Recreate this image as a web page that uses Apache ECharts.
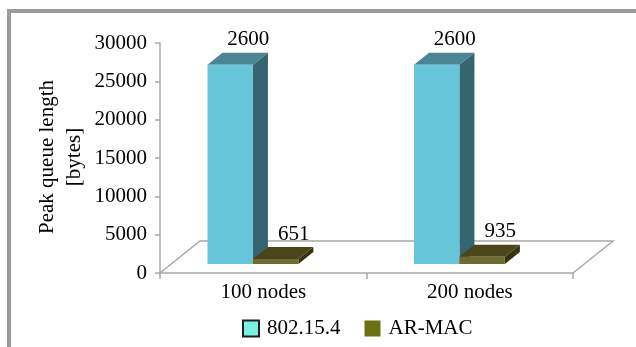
<!DOCTYPE html>
<html>
<head>
<meta charset="utf-8">
<script src="https://cdn.jsdelivr.net/npm/echarts@6/dist/echarts.min.js"></script>
<style>
  html, body { margin: 0; padding: 0; background: #ffffff; }
  #chart { width: 636px; height: 347px; }
</style>
</head>
<body>
<div id="chart"></div>
<script>
// Peak queue length per network size
const categories = ['100 nodes', '200 nodes'];
const seriesNames = ['802.15.4', 'AR-MAC'];
const ieeeValues = [26000, 26000];
const armacValues = [651, 935];
// value annotations as printed above each bar
const ieeeLabels = ['2600', '2600'];
const armacLabels = ['651', '935'];
const yTicks = [0, 5000, 10000, 15000, 20000, 25000, 30000];

const FONT = '"Liberation Serif", "Times New Roman", serif';
const FS = 21;

// face colours: front, top, side
const faces = [
  { front: '#66C5D8', top: '#4B8494', side: '#356570', legend: '#77F2DE' },
  { front: '#6E6B30', top: '#4A4617', side: '#36330F', legend: '#6B7212' }
];

// bar depth projection and placement within a category band
const BAR_DX = 15, BAR_DY = -12;
const FLOOR_DX = 40, FLOOR_DY = -32;
const BAR_SINK = 9;           // bars stand part-way back on the floor
const BAR_W = 0.22;           // fraction of the band
const BAR_START = -0.27;      // left edge of the first bar, fraction of band from centre

function barRenderer(seriesIdx, labels) {
  return function (params, api) {
    const cat = api.value(0);
    const val = api.value(1);
    const base = api.coord([cat, 0]);
    const top = api.coord([cat, val]);
    const band = api.size([1, 0])[0];
    const w = band * BAR_W;
    const x0 = base[0] + band * BAR_START + seriesIdx * w;
    const x1 = x0 + w;
    const yb = base[1] - BAR_SINK;
    const yt = top[1] - BAR_SINK;
    const c = faces[seriesIdx];
    return {
      type: 'group',
      children: [
        { type: 'polygon', shape: { points: [[x1, yb], [x1 + BAR_DX, yb + BAR_DY], [x1 + BAR_DX, yt + BAR_DY], [x1, yt]] },
          style: { fill: c.side } },
        { type: 'polygon', shape: { points: [[x0, yt], [x1, yt], [x1 + BAR_DX, yt + BAR_DY], [x0 + BAR_DX, yt + BAR_DY]] },
          style: { fill: c.top } },
        { type: 'rect', shape: { x: x0, y: yt, width: w, height: yb - yt },
          style: { fill: c.front } },
        { type: 'text',
          style: { text: labels[params.dataIndex], x: (x0 + x1) / 2 + BAR_DX + 3, y: yt + BAR_DY - 13,
                   align: 'center', verticalAlign: 'middle', font: FS + 'px ' + FONT, fill: '#000' } }
      ]
    };
  };
}

function floorRenderer(params, api) {
  const a = api.coord([0, 0]);
  const b = api.coord([categories.length - 1, 0]);
  const band = api.size([1, 0])[0];
  const left = a[0] - band / 2;
  const right = b[0] + band / 2;
  const y = a[1];
  return {
    type: 'polyline',
    shape: { points: [[left, y], [left + FLOOR_DX, y + FLOOR_DY], [right + FLOOR_DX, y + FLOOR_DY], [right, y]] },
    style: { stroke: '#A8A8A8', lineWidth: 1.5, fill: null }
  };
}

const chart = echarts.init(document.getElementById('chart'), null, { renderer: 'canvas' });

chart.setOption({
  animation: false,
  backgroundColor: '#ffffff',
  grid: { left: 160, right: 63, top: 43, bottom: 74 },
  xAxis: {
    type: 'category',
    data: categories,
    boundaryGap: true,
    axisLine: { lineStyle: { color: '#A8A8A8', width: 1.5 } },
    axisTick: { show: true, length: 6, lineStyle: { color: '#A8A8A8', width: 1.5 } },
    axisLabel: { color: '#000', fontFamily: FONT, fontSize: FS, margin: 9 }
  },
  yAxis: {
    type: 'value',
    min: 0, max: 30000, interval: 5000,
    axisLine: { show: true, lineStyle: { color: '#A8A8A8', width: 1.5 } },
    axisTick: { show: true, length: 5, lineStyle: { color: '#A8A8A8', width: 1.5 } },
    splitLine: { show: false },
    axisLabel: {
      color: '#000', fontFamily: FONT, fontSize: FS, margin: 13,
      customValues: yTicks,
      formatter: v => String(v)
    }
  },
  legend: {
    left: 237, top: 313,
    icon: 'rect',
    itemWidth: 16, itemHeight: 16, itemGap: 24,
    textStyle: { color: '#000', fontFamily: FONT, fontSize: FS, padding: [0, 0, 0, 3] },
    data: [
      { name: seriesNames[0], itemStyle: { color: faces[0].legend, borderColor: '#1E1E1E', borderWidth: 2 } },
      { name: seriesNames[1], itemStyle: { color: faces[1].legend, borderWidth: 0 } }
    ]
  },
  graphic: [
    { type: 'rect', shape: { x: 7, y: 9, width: 629, height: 4 }, style: { fill: '#9B9B9B' } },
    { type: 'rect', shape: { x: 7, y: 9, width: 4, height: 338 }, style: { fill: '#9B9B9B' } },
    { type: 'text', x: 61, y: 157, rotation: Math.PI / 2,
      style: { text: 'Peak queue length\n[bytes]', align: 'center', verticalAlign: 'middle',
               font: FS + 'px ' + FONT, lineHeight: 27, fill: '#000' } }
  ],
  series: [
    { type: 'custom', name: 'floor', silent: true, z: 1,
      renderItem: floorRenderer, data: [[0, 0]], encode: { x: 0, y: 1 } },
    { type: 'custom', name: seriesNames[0], z: 2, itemStyle: { color: faces[0].legend },
      renderItem: barRenderer(0, ieeeLabels),
      data: ieeeValues.map((v, i) => [i, v]), encode: { x: 0, y: 1 } },
    { type: 'custom', name: seriesNames[1], z: 3, itemStyle: { color: faces[1].legend },
      renderItem: barRenderer(1, armacLabels),
      data: armacValues.map((v, i) => [i, v]), encode: { x: 0, y: 1 } }
  ]
});
</script>
</body>
</html>
